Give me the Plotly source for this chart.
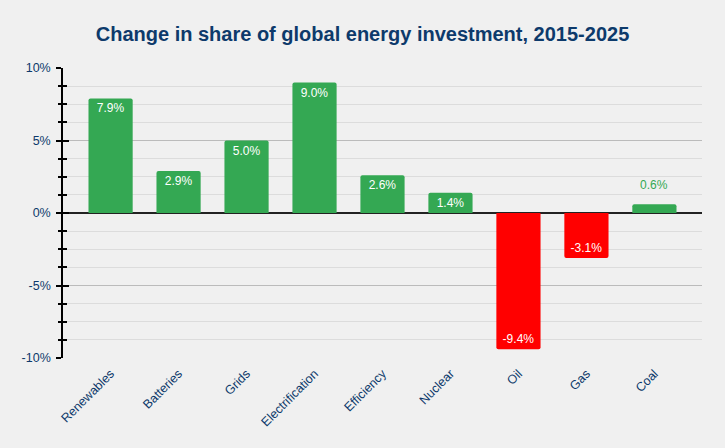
import plotly.graph_objects as go

categories = ["Renewables", "Batteries", "Grids", "Electrification", "Efficiency",
              "Nuclear", "Oil", "Gas", "Coal"]
changes = [7.9, 2.9, 5.0, 9.0, 2.6, 1.4, -9.4, -3.1, 0.6]

green = "#34a853"
red = "#ff0000"
navy = "#0d3a6b"

colors = [green if v >= 0 else red for v in changes]
labels = [f"{v:.1f}%" for v in changes]
# small bars get their label above the bar instead of inside it
small = [abs(v) < 1 for v in changes]
inside_labels = ["" if s else t for s, t in zip(small, labels)]

fig = go.Figure()
fig.add_trace(go.Bar(
    x=categories,
    y=changes,
    marker=dict(color=colors, cornerradius=2, line=dict(width=0)),
    text=inside_labels,
    textposition="inside",
    insidetextanchor="end",
    insidetextfont=dict(color="white", size=12),
    hoverinfo="skip",
))
# empty trace so the overlay axis (ticks crossing the axis line) gets drawn
fig.add_trace(go.Scatter(x=[], y=[], yaxis="y2", showlegend=False))

for cat, val, lab, s in zip(categories, changes, labels, small):
    if s:
        fig.add_annotation(x=cat, y=val, text=lab, showarrow=False,
                           yanchor="bottom", yshift=10,
                           font=dict(color=green, size=12))

fig.update_layout(
    width=725,
    height=448,
    paper_bgcolor="#f0f0f0",
    plot_bgcolor="#f0f0f0",
    font=dict(family="Liberation Sans, Arial, sans-serif", color=navy, size=12),
    title=dict(
        text="<b>Change in share of global energy investment, 2015-2025</b>",
        x=0.5, xanchor="center", y=0.925, yanchor="middle",
        font=dict(size=20, color=navy),
    ),
    margin=dict(l=63, r=23, t=68, b=90, autoexpand=False),
    bargap=0.35,
    showlegend=False,
)

fig.update_xaxes(
    range=[-0.7, 8.7],
    tickangle=-45,
    tickfont=dict(size=12.5, color=navy),
    ticklabelstandoff=5,
    showgrid=False,
    showline=False,
    ticks="",
)

fig.update_yaxes(
    range=[-10, 10],
    tickvals=[-10, -5, 0, 5, 10],
    ticktext=["-10%", "-5%", "0%", "5%", "10%"],
    tickfont=dict(size=12.5, color=navy),
    showgrid=True,
    gridcolor="#bbbbbb",
    gridwidth=1,
    zeroline=True,
    zerolinecolor="#222222",
    zerolinewidth=1.5,
    showline=True,
    linecolor="black",
    linewidth=1.5,
    ticks="outside",
    ticklen=5,
    tickcolor="black",
    tickwidth=1.5,
    ticklabelstandoff=3,
    minor=dict(dtick=1.25, showgrid=True, gridcolor="#dcdcdc", gridwidth=1,
               ticks="outside", ticklen=3, tickcolor="black", tickwidth=1.5),
)

fig.update_layout(yaxis2=dict(
    overlaying="y",
    anchor="x",
    side="left",
    range=[-10, 10],
    tickvals=[-10, -5, 0, 5, 10],
    showticklabels=False,
    showgrid=False,
    zeroline=False,
    showline=False,
    ticks="inside",
    ticklen=6,
    tickcolor="black",
    tickwidth=1.5,
    minor=dict(dtick=1.25, ticks="inside", ticklen=4, tickcolor="black",
               tickwidth=1.5, showgrid=False),
))

fig.write_html("out.html", config={"displayModeBar": False},
               post_script="document.body.style.margin='0';")
